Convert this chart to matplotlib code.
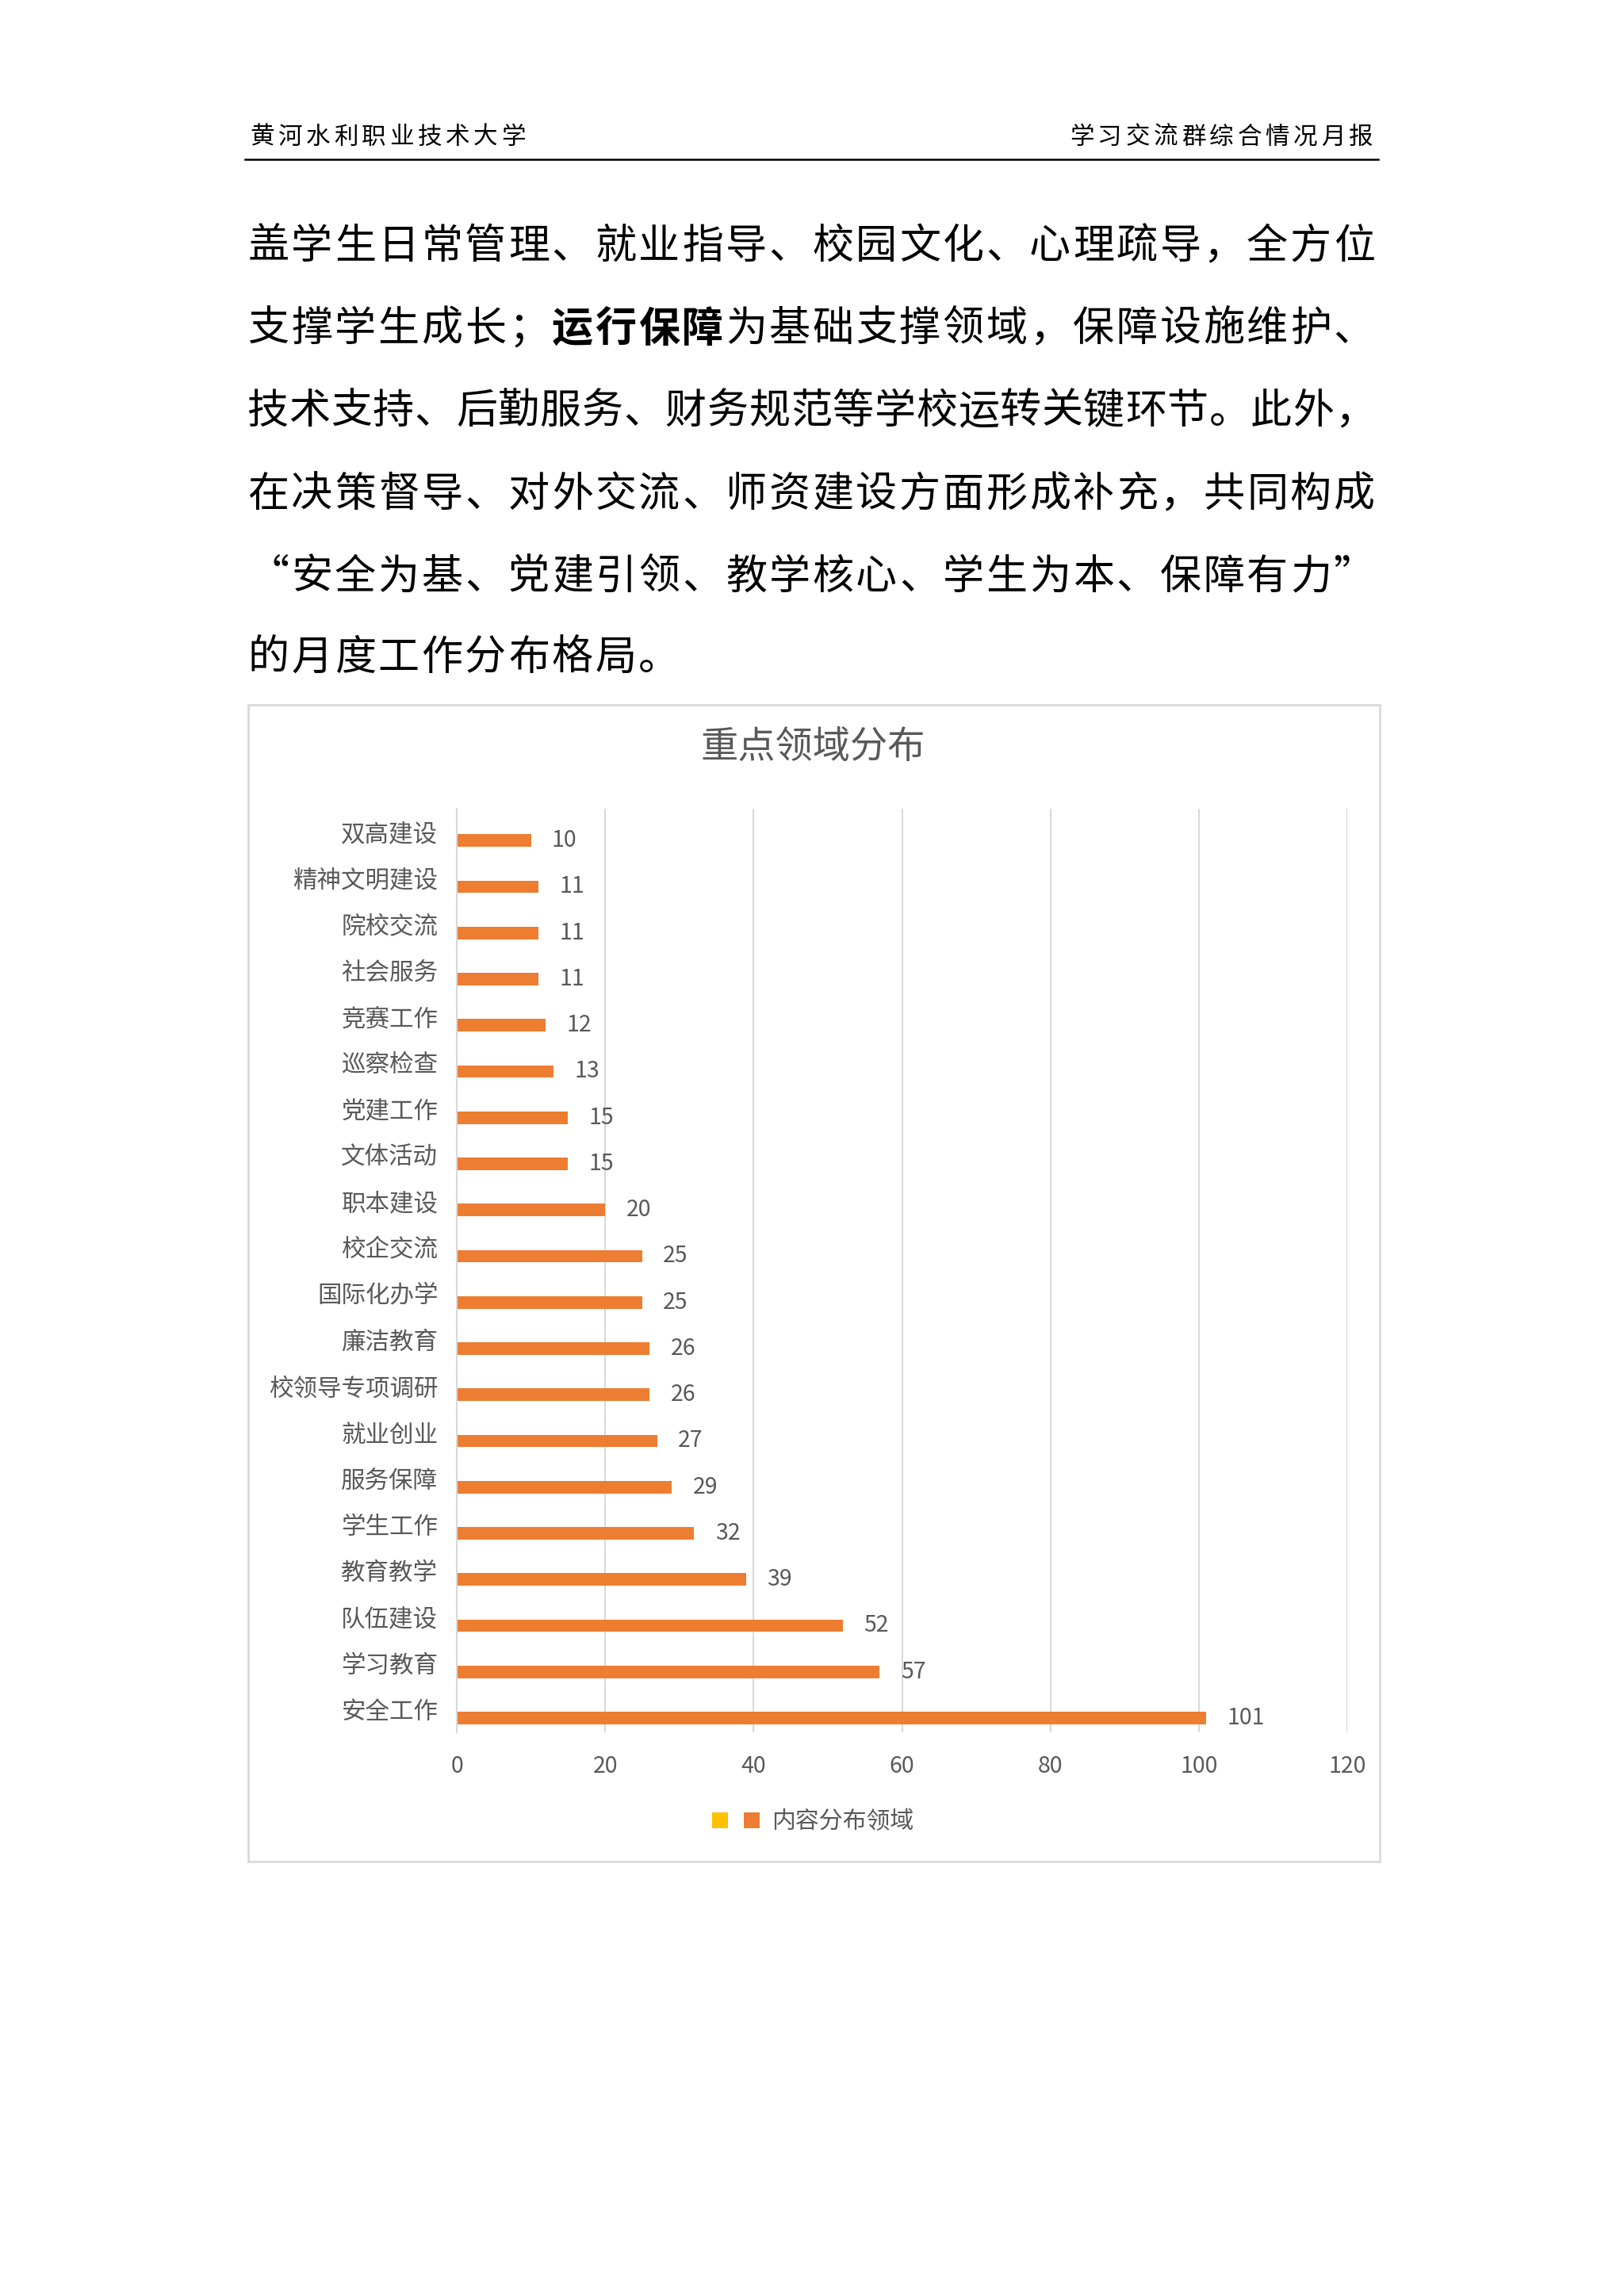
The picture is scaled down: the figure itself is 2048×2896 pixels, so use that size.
import matplotlib
matplotlib.use("Agg")
import matplotlib.pyplot as plt
from matplotlib.patches import Patch, Rectangle
from matplotlib.lines import Line2D
import numpy as np

plt.rcParams['font.family'] = ['Noto Sans CJK SC', 'DejaVu Sans']

# chart data (bottom to top, as the chart draws them)
categories = ["安全工作", "学习教育", "队伍建设", "教育教学", "学生工作",
              "服务保障", "就业创业", "校领导专项调研", "廉洁教育", "国际化办学",
              "校企交流", "职本建设", "文体活动", "党建工作", "巡察检查",
              "竞赛工作", "社会服务", "院校交流", "精神文明建设", "双高建设"]
counts = [101, 57, 52, 39, 32, 29, 27, 26, 26, 25,
          25, 20, 15, 15, 13, 12, 11, 11, 11, 10]
x_ticks = [0, 20, 40, 60, 80, 100, 120]
series_name = "内容分布领域"
chart_title = "重点领域分布"

header_left = "黄河水利职业技术大学"
header_right = "学习交流群综合情况月报"
body_lines = [
    "盖学生日常管理、就业指导、校园文化、心理疏导，全方位",
    "支撑学生成长；运行保障为基础支撑领域，保障设施维护、",
    "技术支持、后勤服务、财务规范等学校运转关键环节。此外，",
    "在决策督导、对外交流、师资建设方面形成补充，共同构成",
    "“安全为基、党建引领、教学核心、学生为本、保障有力”",
    "的月度工作分布格局。",
]
bold_line, bold_start, bold_end = 1, 7, 11  # "运行保障"

ORANGE = "#ED7D31"
YELLOW = "#FFC000"
GRID = "#D9D9D9"
TXT = "#595959"

W, H = 2048, 2896
fig = plt.figure(figsize=(W / 100, H / 100), dpi=100)
fig.patch.set_facecolor("white")

def fx(px):
    return px / W

def fy(py):
    return 1 - py / H

def spaced(text, x0, y, pitch, size, weights=None):
    # lay out glyphs on a fixed pitch, the way the justified document does
    for i, ch in enumerate(text):
        w = weights[i] if weights else "light"
        fig.text(fx(x0 + pitch * (i + 0.5)), fy(y), ch, fontsize=size,
                 ha="center", va="center", color="black", weight=w)

# page header
hp = 35.2
spaced(header_left, 313, 173, hp, 22)
spaced(header_right, 1734 - hp * len(header_right), 173, hp, 22)
fig.add_artist(Line2D([fx(309), fx(1738)], [fy(201), fy(201)], color="black", lw=1.8))

# body paragraph
left, right = 311, 1735
full_pitch = (right - left) / 26
line_y = [311, 415, 519, 624, 728, 830]
for li, line in enumerate(body_lines):
    pitch = (right - left) / len(line) if li < len(body_lines) - 1 else full_pitch
    weights = ["bold" if (li == bold_line and bold_start <= ci < bold_end) else "light"
               for ci in range(len(line))]
    spaced(line, left, line_y[li], pitch, 37.5, weights)

# chart frame
fig.add_artist(Rectangle((fx(313), fy(2348)), fx(1740) - fx(313), fy(889) - fy(2348),
                         transform=fig.transFigure, fill=False, edgecolor=GRID, lw=2))
fig.text(fx(1025), fy(943), chart_title, fontsize=34, ha="center", va="center", color=TXT)

ax = fig.add_axes([fx(576), fy(2185), fx(1699) - fx(576), fy(1020) - fy(2185)])
y = np.arange(len(categories))
ax.barh(y - 0.19, counts, height=0.27, color=ORANGE)
for yi, v in zip(y, counts):
    ax.annotate(str(v), (v, yi - 0.19), xytext=(19, 0), textcoords="offset points",
                ha="left", va="center", fontsize=20.5, color=TXT)

ax.set_xlim(0, 120)
ax.set_ylim(-0.5, len(categories) - 0.5)
ax.set_xticks(x_ticks)
ax.set_xticklabels([str(t) for t in x_ticks])
ax.set_yticks(y)
ax.set_yticklabels(categories)
ax.tick_params(axis="x", length=0, pad=20, labelsize=20.5, labelcolor=TXT)
ax.tick_params(axis="y", length=0, pad=17, labelsize=22, labelcolor=TXT)
ax.grid(axis="x", color=GRID, lw=1.5)
ax.set_axisbelow(True)
for s in ["top", "right", "bottom"]:
    ax.spines[s].set_visible(False)
ax.spines["left"].set_color(GRID)
ax.spines["left"].set_linewidth(1.5)

handles = [Patch(facecolor=YELLOW), Patch(facecolor=ORANGE)]
fig.legend(handles, ["", series_name], loc="center", bbox_to_anchor=(fx(1025), fy(2298)),
           ncol=2, frameon=False, fontsize=21.5, labelcolor=TXT,
           handlelength=0.68, handleheight=0.68, handletextpad=0.5, columnspacing=0.15)

fig.savefig("out.png", dpi=100, facecolor="white")
